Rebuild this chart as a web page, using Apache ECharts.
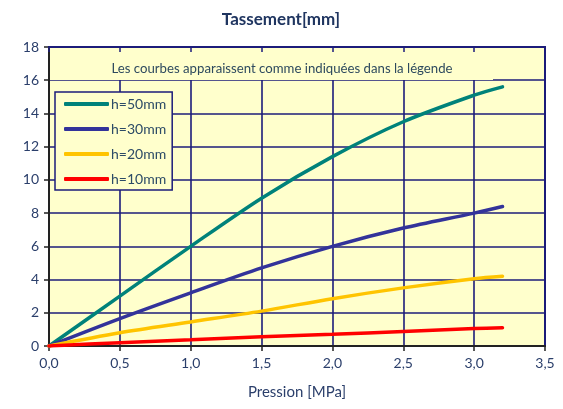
<!DOCTYPE html>
<html><head><meta charset="utf-8">
<script src="https://cdn.jsdelivr.net/npm/echarts@6/dist/echarts.min.js"></script>
<style>html,body{margin:0;padding:0;background:#fff}#c{width:563px;height:409px}</style>
</head><body><div id="c"></div>
<script>
const pression = [0, 0.5, 1.0, 1.5, 2.0, 2.5, 3.0, 3.2];
const h50 = [0, 3.0, 6.0, 8.9, 11.4, 13.5, 15.1, 15.6];
const h30 = [0, 1.65, 3.2, 4.7, 6.0, 7.1, 8.0, 8.4];
const h20 = [0, 0.8, 1.45, 2.1, 2.85, 3.5, 4.05, 4.2];
const h10 = [0, 0.2, 0.37, 0.55, 0.7, 0.87, 1.05, 1.1];
const seriesNames = ['h=50mm', 'h=30mm', 'h=20mm', 'h=10mm'];
const seriesColors = ['#00827a', '#33339a', '#ffc400', '#ff0000'];
const xTicks = ['0,0','0,5','1,0','1,5','2,0','2,5','3,0','3,5'];
const titleText = 'Tassement[mm]';
const xName = 'Pression [MPa]';
const noteText = 'Les courbes apparaissent comme indiquées dans la légende';

const FONT = 'Lato';
const navy = '#1c1c7a';
const labelColor = '#2b3f6b';
const values = [h50, h30, h20, h10];

const chart = echarts.init(document.getElementById('c'));
chart.setOption({
  animation: false,
  backgroundColor: '#fff',
  textStyle: {fontFamily: FONT},
  title: {text: titleText, left: 276, top: 6, textAlign: 'center',
    textStyle: {fontFamily: FONT, fontSize: 17, fontWeight: 'bold', color: '#1f3560'}},
  grid: {left: 49, right: 18, top: 47, bottom: 63, show: true,
    backgroundColor: '#ffffcc', borderColor: navy, borderWidth: 2},
  legend: {
    orient: 'vertical', left: 55, top: 92,
    padding: [5, 6, 4, 9],
    backgroundColor: '#ffffcc', borderColor: navy, borderWidth: 1.5,
    itemWidth: 45, itemHeight: 4, itemGap: 11, icon: 'roundRect',
    textStyle: {fontFamily: FONT, fontSize: 14, color: '#2c4b66', padding: [0,0,0,-3]},
    data: seriesNames
  },
  graphic: [
    {type: 'rect', z: 1, shape: {x: 50, y: 48, width: 443, height: 32},
      style: {fill: '#ffffcc'}},
    {type: 'text', z: 2, x: 282, y: 69, style: {text: noteText, fontFamily: FONT,
      fontSize: 13.2, fill: '#2e4a5e', align: 'center', verticalAlign: 'middle'}}
  ],
  xAxis: [{
    type: 'value', min: 0, max: 3.5, interval: 0.5,
    name: xName, nameLocation: 'middle', nameGap: 39,
    nameTextStyle: {fontFamily: FONT, fontSize: 15, color: labelColor},
    axisLine: {show: true, lineStyle: {color: '#222', width: 2}},
    axisTick: {show: true, length: 5, lineStyle: {color: '#222', width: 1.5}},
    axisLabel: {fontFamily: FONT, fontSize: 14, color: labelColor, margin: 10,
      formatter: v => xTicks[Math.round(v / 0.5)]},
    splitLine: {show: true, lineStyle: {color: navy, width: 1.6}}
  }, {
    type: 'value', position: 'top', min: 0, max: 3.5, interval: 0.5, z: 10,
    axisLine: {show: true, lineStyle: {color: navy, width: 2}},
    axisTick: {show: true, inside: true, length: 5, lineStyle: {color: navy, width: 1.5}},
    axisLabel: {show: false}, splitLine: {show: false}
  }],
  yAxis: {
    type: 'value', min: 0, max: 18, interval: 2,
    axisLine: {show: true, lineStyle: {color: '#222', width: 2}},
    axisTick: {show: true, length: 5, lineStyle: {color: '#222', width: 1.5}},
    axisLabel: {fontFamily: FONT, fontSize: 14, color: labelColor, margin: 10},
    splitLine: {show: true, lineStyle: {color: navy, width: 1.6}}
  },
  series: seriesNames.map((n, i) => ({
    name: n, type: 'line', smooth: 0.3, showSymbol: false, z: 3,
    data: pression.map((x, j) => [x, values[i][j]]),
    lineStyle: {color: seriesColors[i], width: 3.5, cap: 'round'},
    itemStyle: {color: seriesColors[i]}
  }))
});
</script></body></html>
